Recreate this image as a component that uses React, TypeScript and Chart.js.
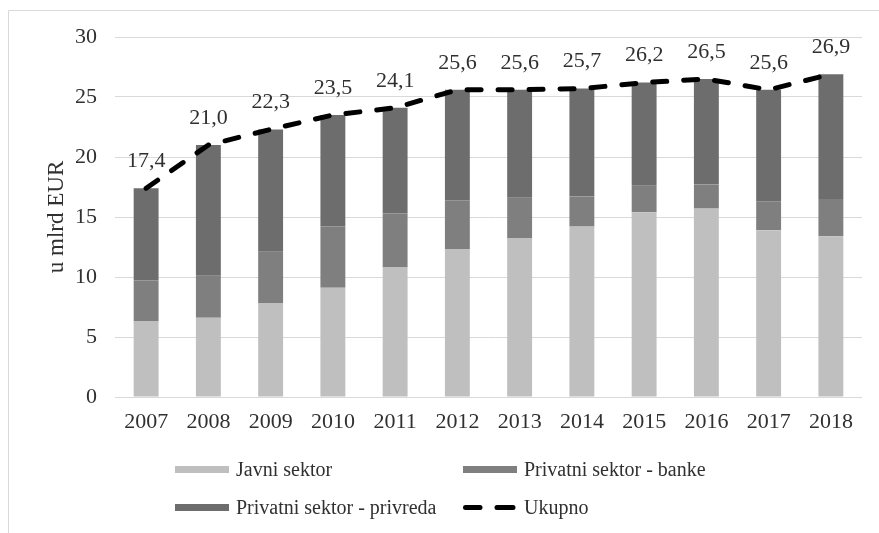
import React, { useEffect, useRef } from "react";
import { Chart, registerables } from "chart.js";

Chart.register(...registerables);

const years = ["2007", "2008", "2009", "2010", "2011", "2012", "2013", "2014", "2015", "2016", "2017", "2018"];
const javniSektor = [6.3, 6.6, 7.8, 9.1, 10.8, 12.3, 13.2, 14.2, 15.4, 15.7, 13.9, 13.4];
const privatniBanke = [3.4, 3.5, 4.3, 5.1, 4.5, 4.1, 3.4, 2.5, 2.2, 2.0, 2.4, 3.1];
const privatniPrivreda = [7.7, 10.9, 10.2, 9.3, 8.8, 9.2, 9.0, 9.0, 8.6, 8.8, 9.3, 10.4];
const ukupno = [17.4, 21.0, 22.3, 23.5, 24.1, 25.6, 25.6, 25.7, 26.2, 26.5, 25.6, 26.9];
const yTicks = [0, 5, 10, 15, 20, 25, 30];

const FONT = "'Liberation Serif', 'Times New Roman', serif";
const TEXT = "#303030";
const COL_J = "#bfbfbf";
const COL_B = "#7f7f7f";
const COL_P = "#6d6d6d";

const decorPlugin = {
  id: "decor",
  beforeDraw(chart: any) {
    const ctx = chart.ctx;
    ctx.save();
    ctx.fillStyle = "#ffffff";
    ctx.fillRect(0, 0, chart.width, chart.height);
    ctx.strokeStyle = "#d9d9d9";
    ctx.lineWidth = 1;
    ctx.beginPath();
    ctx.moveTo(8.5, chart.height);
    ctx.lineTo(8.5, 10.5);
    ctx.lineTo(chart.width, 10.5);
    ctx.stroke();
    ctx.restore();
  },
  afterDatasetsDraw(chart: any) {
    const ctx = chart.ctx;
    const meta = chart.getDatasetMeta(3);
    ctx.save();
    ctx.font = `22px ${FONT}`;
    ctx.fillStyle = TEXT;
    ctx.textAlign = "center";
    ctx.textBaseline = "middle";
    meta.data.forEach((pt: any, i: number) => {
      const v = ukupno[i].toFixed(1).replace(".", ",");
      ctx.fillText(v, pt.x, pt.y - 27);
    });
    ctx.restore();
  },
  afterDraw(chart: any) {
    const ctx = chart.ctx;
    ctx.save();
    ctx.font = `20px ${FONT}`;
    ctx.fillStyle = TEXT;
    ctx.textAlign = "left";
    ctx.textBaseline = "middle";
    const rows = [469.5, 507.5];
    const items = [
      { x: 175, y: rows[0], color: COL_J, label: chart.data.datasets[0].label },
      { x: 463, y: rows[0], color: COL_B, label: chart.data.datasets[1].label },
      { x: 175, y: rows[1], color: COL_P, label: chart.data.datasets[2].label },
    ];
    items.forEach((it) => {
      ctx.fillStyle = it.color;
      ctx.fillRect(it.x, it.y - 3.5, 54, 7);
      ctx.fillStyle = TEXT;
      ctx.fillText(it.label, it.x + 61, it.y + 1);
    });
    ctx.strokeStyle = "#000000";
    ctx.lineWidth = 5;
    ctx.lineCap = "round";
    ctx.beginPath();
    ctx.moveTo(465.5, rows[1]);
    ctx.lineTo(480, rows[1]);
    ctx.moveTo(497, rows[1]);
    ctx.lineTo(513, rows[1]);
    ctx.stroke();
    ctx.fillStyle = TEXT;
    ctx.fillText(chart.data.datasets[3].label, 524, rows[1] + 1);
    ctx.restore();
  },
};

export default function App() {
  const ref = useRef<HTMLCanvasElement>(null);
  useEffect(() => {
    if (!ref.current) return;
    const chart = new Chart(ref.current, {
      type: "bar",
      data: {
        labels: years,
        datasets: [
          { type: "bar", label: "Javni sektor", data: javniSektor, backgroundColor: COL_J, stack: "s", order: 1, categoryPercentage: 0.8, barPercentage: 0.5 },
          { type: "bar", label: "Privatni sektor - banke", data: privatniBanke, backgroundColor: COL_B, stack: "s", order: 1, categoryPercentage: 0.8, barPercentage: 0.5 },
          { type: "bar", label: "Privatni sektor - privreda", data: privatniPrivreda, backgroundColor: COL_P, stack: "s", order: 1, categoryPercentage: 0.8, barPercentage: 0.5 },
          {
            type: "line",
            label: "Ukupno",
            data: ukupno,
            borderColor: "#000000",
            borderWidth: 5,
            borderDash: [14, 17],
            borderCapStyle: "round",
            pointRadius: 0,
            tension: 0,
            fill: false,
            stack: "total",
            order: 0,
          } as any,
        ],
      },
      options: {
        responsive: false,
        animation: false,
        layout: { padding: { left: 9, right: 17, top: 37, bottom: 96 } },
        plugins: { legend: { display: false }, tooltip: { enabled: false }, title: { display: false } },
        scales: {
          x: {
            stacked: true,
            grid: { display: false, drawTicks: false },
            border: { display: false },
            ticks: { font: { family: FONT, size: 22 }, color: TEXT, padding: 12, maxRotation: 0 },
            afterFit: (s: any) => { s.height = 40; },
          },
          y: {
            stacked: true,
            min: 0,
            max: 30,
            afterBuildTicks: (s: any) => { s.ticks = yTicks.map((v) => ({ value: v })); },
            grid: { color: "#d9d9d9", lineWidth: 1, drawTicks: false },
            border: { display: false },
            ticks: { font: { family: FONT, size: 22 }, color: TEXT, padding: 18 },
            title: { display: true, text: "u mlrd EUR", font: { family: FONT, size: 23 }, color: TEXT, padding: { top: 34, bottom: 0 } },
            afterFit: (s: any) => { s.width = 106; },
          },
        },
      },
      plugins: [decorPlugin],
    });
    return () => chart.destroy();
  }, []);
  return (
    <div style={{ position: "fixed", left: 0, top: 0, width: 879, height: 533, background: "#fff" }}>
      <canvas ref={ref} width={879} height={533} style={{ display: "block" }} />
    </div>
  );
}
